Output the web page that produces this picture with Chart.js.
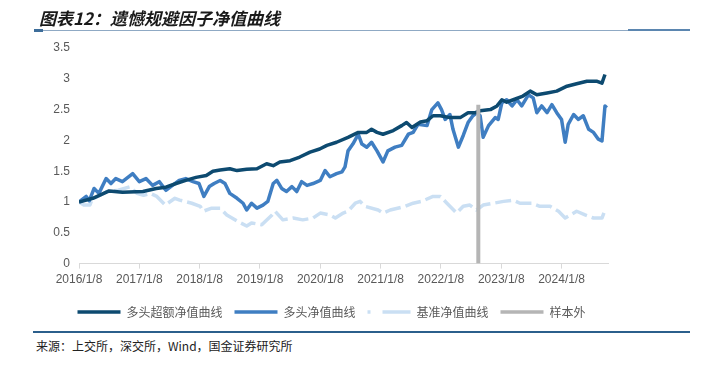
<!DOCTYPE html>
<html><head><meta charset="utf-8">
<script src="https://cdn.jsdelivr.net/npm/chart.js@4.4.0/dist/chart.umd.min.js"></script>
<style>
html,body{margin:0;padding:0;background:#fff;}
#wrap{position:relative;width:702px;height:366px;overflow:hidden;background:#fff;}
#title{position:absolute;left:39px;top:5px;font:italic bold 17px "Noto Sans CJK SC";color:#1a1a1a;white-space:nowrap;}
#tline{position:absolute;left:34px;top:30px;width:656px;height:1px;background:#8fa9c4;}
#tl1{position:absolute;left:34px;top:29px;width:9px;height:3px;background:#3d6d9a;}
#tl2{position:absolute;left:628px;top:29px;width:62px;height:2px;background:#5b86b0;}
#sline{position:absolute;left:33px;top:331px;width:657px;height:2px;background:#2b5f8c;}
#source{position:absolute;left:36px;top:337px;font:12px "Noto Sans CJK SC";color:#222;white-space:nowrap;}
#cbox{position:absolute;left:0;top:0;width:702px;height:328px;}
</style>
</head><body>
<div id="wrap">
<div id="cbox"><canvas id="c"></canvas></div>
<div id="title">图表12：遗憾规避因子净值曲线</div>
<div id="tline"></div><div id="tl1"></div><div id="tl2"></div>
<div id="sline"></div>
<div id="source">来源：上交所，深交所，Wind，国金证券研究所</div>
</div>
<script>
// x = years since 2016/1/8
const xTickLabels = ['2016/1/8','2017/1/8','2018/1/8','2019/1/8','2020/1/8','2021/1/8','2022/1/8','2023/1/8','2024/1/8'];
const yTickLabels = ['0','0.5','1','1.5','2','2.5','3','3.5'];
const seriesNames = ['多头超额净值曲线','多头净值曲线','基准净值曲线','样本外'];

const excessT = [0,0.23,0.50,0.72,1.06,1.28,1.44,1.61,1.77,1.94,2.11,2.22,2.34,2.50,2.62,2.78,2.95,3.11,3.22,3.33,3.50,3.66,3.83,3.99,4.11,4.27,4.46,4.63,4.77,4.85,4.94,5.04,5.21,5.35,5.43,5.52,5.66,5.77,5.87,5.99,6.15,6.32,6.45,6.57,6.65,6.82,6.93,7.01,7.09,7.20,7.36,7.48,7.59,7.76,7.92,8.09,8.25,8.42,8.59,8.67,8.72];
const excessV = [1.00,1.06,1.18,1.16,1.17,1.22,1.24,1.30,1.35,1.40,1.43,1.50,1.52,1.54,1.51,1.53,1.54,1.62,1.59,1.65,1.67,1.73,1.81,1.86,1.92,1.97,2.05,2.13,2.13,2.18,2.13,2.10,2.16,2.24,2.29,2.21,2.30,2.32,2.40,2.40,2.37,2.37,2.45,2.45,2.48,2.50,2.56,2.66,2.62,2.66,2.72,2.80,2.74,2.77,2.80,2.88,2.92,2.96,2.96,2.93,3.07];

const longT = [0,0.12,0.17,0.25,0.33,0.45,0.53,0.61,0.72,0.89,1.00,1.11,1.22,1.33,1.44,1.55,1.66,1.77,1.89,1.99,2.07,2.16,2.24,2.34,2.42,2.50,2.62,2.72,2.78,2.86,2.95,3.05,3.13,3.22,3.28,3.36,3.44,3.53,3.61,3.69,3.78,3.88,4.00,4.08,4.16,4.27,4.36,4.41,4.46,4.54,4.63,4.69,4.77,4.85,4.94,5.04,5.12,5.24,5.35,5.46,5.54,5.62,5.77,5.85,5.95,6.01,6.07,6.15,6.20,6.29,6.37,6.45,6.53,6.60,6.65,6.70,6.79,6.90,6.95,7.01,7.09,7.18,7.26,7.34,7.45,7.53,7.59,7.67,7.76,7.84,7.92,8.00,8.06,8.11,8.20,8.28,8.36,8.45,8.53,8.61,8.67,8.72,8.75];
const longV = [1.00,1.09,1.02,1.22,1.14,1.38,1.30,1.38,1.33,1.46,1.33,1.38,1.27,1.33,1.19,1.27,1.35,1.38,1.33,1.30,1.09,1.25,1.30,1.35,1.30,1.14,1.06,0.98,0.87,0.98,0.90,0.95,1.01,1.30,1.35,1.22,1.17,1.25,1.17,1.33,1.27,1.30,1.35,1.51,1.41,1.46,1.49,1.57,1.83,1.94,2.10,1.94,1.89,1.97,1.83,1.65,1.83,1.89,1.92,2.10,2.13,2.26,2.24,2.50,2.61,2.50,2.34,2.42,2.18,1.89,2.08,2.29,2.40,2.45,2.40,2.05,2.24,2.37,2.34,2.61,2.66,2.56,2.66,2.56,2.74,2.69,2.45,2.56,2.45,2.58,2.45,2.34,1.97,2.26,2.42,2.34,2.40,2.18,2.13,2.02,1.99,2.56,2.53];

const benchT = [0,0.08,0.18,0.22,0.35,0.46,0.65,0.85,0.96,1.07,1.18,1.29,1.43,1.59,1.67,1.87,2.01,2.06,2.20,2.34,2.45,2.62,2.78,2.86,3.03,3.20,3.25,3.38,3.55,3.71,3.88,4.00,4.16,4.25,4.38,4.46,4.58,4.66,4.74,4.96,5.04,5.16,5.41,5.54,5.68,5.87,5.99,6.10,6.26,6.37,6.48,6.59,6.70,6.87,7.04,7.20,7.31,7.51,7.64,7.81,7.95,8.06,8.25,8.39,8.53,8.67,8.72];
const benchV = [1.00,0.95,0.95,1.05,1.11,1.17,1.19,1.25,1.14,1.11,1.14,1.09,0.95,1.06,1.03,0.98,0.93,0.85,0.90,0.90,0.79,0.69,0.61,0.66,0.63,0.79,0.85,0.71,0.74,0.71,0.74,0.82,0.79,0.74,0.82,0.85,0.98,1.01,0.93,0.87,0.82,0.87,0.93,0.98,1.01,1.09,1.09,0.98,0.82,0.93,0.95,0.87,0.95,0.98,1.01,1.03,0.98,0.98,0.93,0.93,0.85,0.74,0.85,0.79,0.74,0.74,0.87];

const oosT = [6.62,6.62];
const oosV = [0,2.58];

const pts = (T,V) => T.map((t,i)=>({x:t,y:V[i]}));
const colors = {excess:'#0d4a70', long:'#3f7ec2', bench:'#cadff3', oos:'#b5b5b5'};

const datasets = [
  {label:seriesNames[3], data:pts(oosT,oosV), borderColor:colors.oos, borderWidth:4, borderCapStyle:'butt'},
  {label:seriesNames[0], data:pts(excessT,excessV), borderColor:colors.excess, borderWidth:3.5},
  {label:seriesNames[1], data:pts(longT,longV), borderColor:colors.long, borderWidth:3.5},
  {label:seriesNames[2], data:pts(benchT,benchV), borderColor:colors.bench, borderWidth:3.5, borderDash:[16,5]}
];
datasets.forEach(d=>{d.pointRadius=0;d.pointHoverRadius=0;d.tension=0;d.fill=false;d.borderJoinStyle='round';d.backgroundColor=d.borderColor;});
const legendOrder = [1,2,3,0];

const legendShift = {
  id:'legendShift',
  beforeDraw(chart){ const lg=chart.legend; if(lg && !lg._shifted){ lg.left+=10; lg.right+=10; lg._shifted=true; } }
};

new Chart(document.getElementById('c'), {
  type:'line',
  data:{datasets},
  plugins:[legendShift],
  options:{
    responsive:true, maintainAspectRatio:false, animation:false,
    layout:{padding:{left:35,right:94,top:48,bottom:0}},
    plugins:{
      tooltip:{enabled:false},
      legend:{
        position:'bottom',
        labels:{
          usePointStyle:true, pointStyle:'line', pointStyleWidth:43, boxHeight:4, padding:12,
          font:{family:'"Noto Sans CJK SC"', size:12}, color:'#595959',
          generateLabels:(chart)=>legendOrder.map(i=>{
            const ds=chart.data.datasets[i];
            const dashed = i===3;
            return {text:ds.label, fillStyle:ds.borderColor, strokeStyle:ds.borderColor, lineWidth:3.5,
              lineDash: dashed?[28,12]:[], lineDashOffset: dashed?25:0, lineCap:'butt',
              pointStyle:'line', datasetIndex:i, hidden:false, fontColor:'#595959'};
          })
        }
      }
    },
    scales:{
      x:{type:'linear', min:0, max:8.77,
        ticks:{stepSize:1, includeBounds:false, autoSkip:false, maxRotation:0, padding:4,
          font:{family:'"Liberation Sans"', size:12}, color:'#595959',
          callback:(v)=> Number.isInteger(v) ? xTickLabels[v] : ''},
        grid:{drawOnChartArea:false, drawTicks:true, tickLength:5, color:'#d9d9d9'},
        border:{display:true, color:'#d9d9d9', width:1},
        afterFit:(s)=>{s.height+=3;}
      },
      y:{min:0, max:3.5,
        ticks:{stepSize:0.5, padding:9, font:{family:'"Liberation Sans"', size:12}, color:'#595959',
          callback:(v,i)=> yTickLabels[Math.round(v*2)]},
        grid:{display:false, drawTicks:false},
        border:{display:false},
        afterFit:(s)=>{s.width=44;}
      }
    }
  }
});
</script>
</body></html>
